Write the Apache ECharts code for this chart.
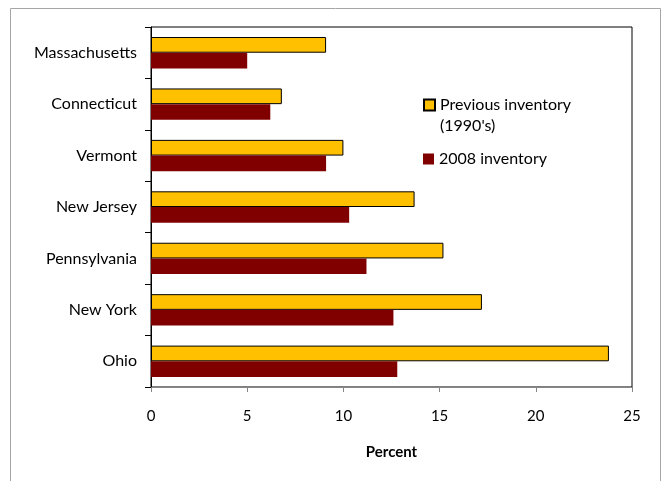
<!DOCTYPE html>
<html>
<head>
<meta charset="utf-8">
<style>
  html, body { margin: 0; padding: 0; background: #fff; }
  #chart { width: 663px; height: 481px; }
</style>
<script src="https://cdn.jsdelivr.net/npm/echarts@6/dist/echarts.min.js"></script>
</head>
<body>
<div id="chart"></div>
<script>
// States, listed top to bottom
const states = ['Massachusetts', 'Connecticut', 'Vermont', 'New Jersey', 'Pennsylvania', 'New York', 'Ohio'];
// Percent per state
const previousInventory = [9.1, 6.8, 10.0, 13.7, 15.2, 17.2, 23.8];
const inventory2008 = [5.0, 6.2, 9.1, 10.3, 11.2, 12.6, 12.8];
const seriesNames = ["Previous inventory (1990's)", '2008 inventory'];
const xTicks = [0, 5, 10, 15, 20, 25];

const FONT = 'Lato, "Open Sans", sans-serif';
const chart = echarts.init(document.getElementById('chart'));

// Legend rows: an empty leading line keeps the swatch level with the first line of a wrapped name
const legendRich = {
  s: { fontFamily: FONT, fontSize: 16, lineHeight: 21, color: '#000' },
  t: { fontFamily: FONT, fontSize: 16, lineHeight: 21, color: '#000' }
};

chart.setOption({
  animation: false,
  textStyle: { fontFamily: FONT },
  grid: {
    left: 151, right: 31, top: 27, bottom: 94,
    show: true, borderColor: '#000', borderWidth: 1, backgroundColor: 'transparent'
  },
  graphic: [{
    type: 'rect', silent: true,
    shape: { x: 10.5, y: 8.5, width: 650, height: 520 },
    style: { fill: 'none', stroke: '#a6a6a6', lineWidth: 1 }
  }],
  legend: [{
    data: [seriesNames[0]],
    left: 418, top: 71,
    itemWidth: 11, itemHeight: 11,
    icon: 'rect',
    formatter: n => {
      const parts = n.split(' (');
      return '{s| }\n{t|' + parts[0] + '}\n{t|(' + parts[1] + '}';
    },
    textStyle: { fontFamily: FONT, fontSize: 16, color: '#000', rich: legendRich }
  }, {
    data: [seriesNames[1]],
    left: 418, top: 146,
    itemWidth: 11, itemHeight: 11,
    icon: 'rect',
    textStyle: { fontFamily: FONT, fontSize: 16, color: '#000' }
  }],
  xAxis: {
    type: 'value', min: xTicks[0], max: xTicks[xTicks.length - 1], interval: 5,
    name: 'Percent', nameLocation: 'middle', nameGap: 58,
    nameTextStyle: { fontFamily: FONT, fontSize: 15, fontWeight: 'bold', color: '#000' },
    axisLine: { show: true, lineStyle: { color: '#868686' } },
    axisTick: { show: true, length: 5, lineStyle: { color: '#868686' } },
    axisLabel: { fontFamily: FONT, fontSize: 15, color: '#000', margin: 22 },
    splitLine: { show: false }
  },
  yAxis: {
    type: 'category', data: states, inverse: true,
    axisLine: { show: true, lineStyle: { color: '#000' } },
    axisTick: { show: true, length: 6, lineStyle: { color: '#000' } },
    axisLabel: { fontFamily: FONT, fontSize: 16, color: '#000', margin: 14 }
  },
  series: [{
    name: seriesNames[0], type: 'bar', data: previousInventory,
    barCategoryGap: '39%', barGap: '0%',
    itemStyle: { color: '#FFC000', borderColor: '#000', borderWidth: 1 }
  }, {
    name: seriesNames[1], type: 'bar', data: inventory2008,
    barCategoryGap: '39%', barGap: '0%',
    itemStyle: { color: '#800000' }
  }]
});
</script>
</body>
</html>
